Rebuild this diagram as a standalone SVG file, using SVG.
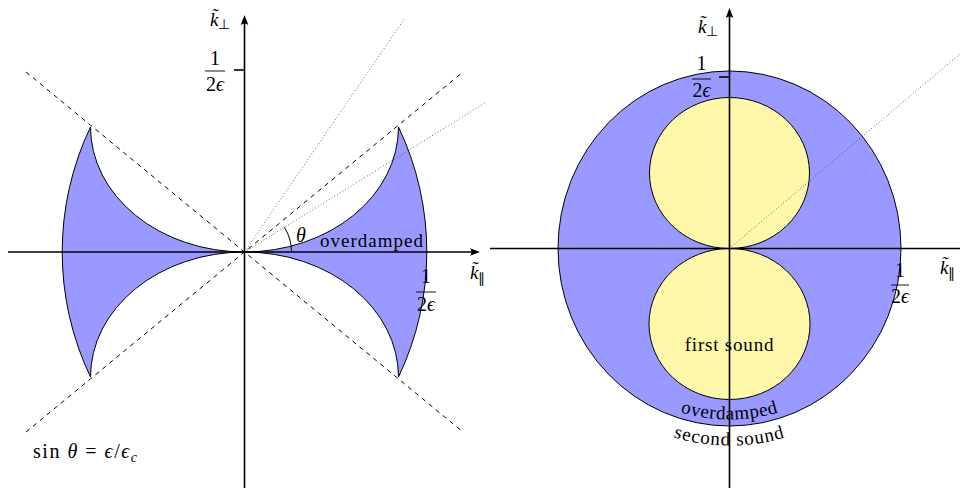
<svg xmlns="http://www.w3.org/2000/svg" width="960" height="490" viewBox="0 0 960 490">
<style>
text{font-family:"Liberation Serif","Times New Roman",serif;fill:#000;font-size:19px}
.it{font-style:italic}
.math{font-size:20px}
.sub{font-size:14px;font-style:normal}
.axis{stroke:#000;stroke-width:1.6;fill:none}
.tick{stroke:#000;stroke-width:1.6}
.bar{stroke:#000;stroke-width:0.9}
.blue{fill:#9999ff;stroke:#000;stroke-width:1}
.yellow{fill:#fff8aa;stroke:#000;stroke-width:1}
.dash{stroke:#000;stroke-width:1;stroke-dasharray:4.5 4.5;fill:none}
.dot{stroke:#444;stroke-width:0.9;stroke-dasharray:0.9 2.3;fill:none}
</style>
<defs>
<marker id="arr" viewBox="0 0 12 10" refX="8" refY="5" markerWidth="12" markerHeight="10" markerUnits="userSpaceOnUse" orient="auto">
<path d="M11,5 L1,1.2 Q4,5 1,8.8 Z" fill="#000"/>
</marker>
<path id="arcOver" d="M 608.6 369.4 A 171 171 0 0 0 850.4 369.4"/>
<path id="arcSecond" d="M 590.2 387.8 A 197 197 0 0 0 868.8 387.8"/>
</defs>

<g id="left-plot">
<g id="left-regions">
<path class="blue" d="M 244.5,252 A 154 125 0 0 1 90.5,127 A 290 290 0 0 0 90.5,377 A 154 125 0 0 1 244.5,252 Z"/>
<path class="blue" d="M 244.5,252 A 154 125 0 0 0 398.5,127 A 290 290 0 0 1 398.5,377 A 154 125 0 0 0 244.5,252 Z"/>
</g>
<g id="left-lines">
<line class="dash" x1="26" y1="72" x2="463" y2="432"/>
<line class="dash" x1="26" y1="432" x2="463" y2="72"/>
<line class="dot" x1="244.5" y1="252" x2="405" y2="18"/>
<line class="dot" x1="244.5" y1="252" x2="485" y2="103"/>
<path d="M 291.5,252 A 47 47 0 0 0 284.4,227.2" fill="none" stroke="#000" stroke-width="1"/>
</g>
<g id="left-axes">
<line class="axis" x1="8" y1="252" x2="477" y2="252" marker-end="url(#arr)"/>
<line class="axis" x1="244.5" y1="488" x2="244.5" y2="18" marker-end="url(#arr)"/>
<line class="tick" x1="234" y1="70" x2="244.5" y2="70"/>
</g>
<g id="left-labels">
<text x="210" y="26"><tspan class="it">k̃</tspan><tspan class="sub" dy="3">⊥</tspan></text>
<text class="math" x="215" y="65" text-anchor="middle">1</text>
<line class="bar" x1="205" y1="71" x2="225" y2="71"/>
<text class="math" x="215" y="91" text-anchor="middle">2<tspan class="it">ϵ</tspan></text>
<text x="470" y="279"><tspan class="it">k̃</tspan><tspan class="sub" dy="4">∥</tspan></text>
<text class="math" x="426" y="283" text-anchor="middle">1</text>
<line class="bar" x1="416" y1="292" x2="436" y2="292"/>
<text class="math" x="426" y="311" text-anchor="middle">2<tspan class="it">ϵ</tspan></text>
<text class="math it" x="296" y="242">θ</text>
<text x="320" y="247" letter-spacing="1">overdamped</text>
<text class="math" x="33" y="458" textLength="104">sin <tspan class="it">θ</tspan> = <tspan class="it">ϵ</tspan>/<tspan class="it">ϵ</tspan><tspan class="it" font-size="14" dy="4">c</tspan></text>
</g>
</g>

<g id="right-plot">
<g id="right-regions">
<ellipse id="second-sound-region" class="blue" cx="729.5" cy="248.5" rx="171.5" ry="177.5"/>
<ellipse id="upper-first-sound" class="yellow" cx="729.5" cy="173" rx="80" ry="75.5"/>
<ellipse id="lower-first-sound" class="yellow" cx="729.5" cy="324" rx="80.5" ry="75.5"/>
</g>
<g id="right-lines">
<line class="dot" x1="729.5" y1="248.5" x2="960" y2="54"/>
</g>
<g id="right-axes">
<line class="axis" x1="490" y1="248.5" x2="960" y2="248.5"/>
<line class="axis" x1="729.5" y1="488" x2="729.5" y2="11" marker-end="url(#arr)"/>
<line class="tick" x1="719" y1="77" x2="729.5" y2="77"/>
</g>
<g id="right-labels">
<text x="698" y="33"><tspan class="it">k̃</tspan><tspan class="sub" dy="3">⊥</tspan></text>
<text class="math" x="701.5" y="70" text-anchor="middle">1</text>
<line class="bar" x1="692" y1="79" x2="711" y2="79"/>
<text class="math" x="701.5" y="97" text-anchor="middle">2<tspan class="it">ϵ</tspan></text>
<text x="940" y="274"><tspan class="it">k̃</tspan><tspan class="sub" dy="4">∥</tspan></text>
<text class="math" x="900" y="277" text-anchor="middle">1</text>
<line class="bar" x1="891" y1="285" x2="909" y2="285"/>
<text class="math" x="900" y="303" text-anchor="middle">2<tspan class="it">ϵ</tspan></text>
<text x="729.5" y="351" text-anchor="middle" letter-spacing="0.8">first sound</text>
<text letter-spacing="0.6"><textPath href="#arcOver" startOffset="50%" text-anchor="middle">overdamped</textPath></text>
<text letter-spacing="0.9"><textPath href="#arcSecond" startOffset="50%" text-anchor="middle">second sound</textPath></text>
</g>
</g>
</svg>
